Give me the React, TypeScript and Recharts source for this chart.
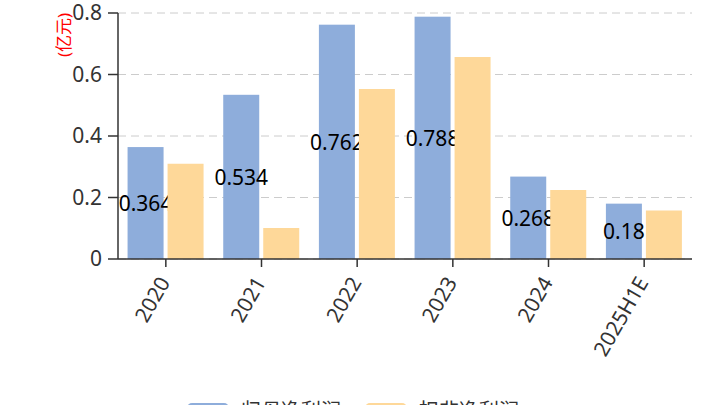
import React from 'react';
import { BarChart, Bar, XAxis, YAxis, CartesianGrid, Legend } from 'recharts';

const categories = ['2020', '2021', '2022', '2023', '2024', '2025H1E'];
const parentProfit = [0.364, 0.534, 0.762, 0.788, 0.268, 0.18];
const deductedProfit = [0.31, 0.101, 0.553, 0.657, 0.224, 0.158];
const yTicks = [0, 0.2, 0.4, 0.6, 0.8];
const seriesNames = ['归母净利润', '扣非净利润'];

const BLUE = '#8eaddb';
const ORANGE = '#fed899';
const FONT = '"Noto Sans", "Noto Sans CJK SC", sans-serif';

const data = categories.map((name, i) => ({
  name,
  parent: parentProfit[i],
  deducted: deductedProfit[i],
}));

const XTick = ({ x, y, payload }: any) => (
  <g transform={`translate(${x},${y})`}>
    <text
      x={-9}
      y={11}
      textAnchor="end"
      transform="rotate(-60)"
      fill="#333"
      fontSize={21}
      fontFamily={FONT}
    >
      {payload.value}
    </text>
  </g>
);

// blue bar with its value label drawn in the same layer, so the orange bars cover it
const ParentShape = (props: any) => {
  const { x, y, width, height, payload } = props;
  return (
    <g>
      <rect x={x} y={y} width={width} height={height} fill={BLUE} />
      <text
        x={x + width / 2}
        y={y + height / 2}
        textAnchor="middle"
        dominantBaseline="central"
        fill="#000"
        fontSize={21}
        fontFamily={FONT}
      >
        {payload.parent}
      </text>
    </g>
  );
};

const LegendContent = () => (
  <div
    style={{
      display: 'flex',
      justifyContent: 'center',
      alignItems: 'center',
      height: 30,
      paddingLeft: 14,
      fontFamily: FONT,
      fontSize: 20,
      color: '#333',
    }}
  >
    {[BLUE, ORANGE].map((c, i) => (
      <div key={i} style={{ display: 'flex', alignItems: 'center', marginRight: i === 0 ? 24 : 0 }}>
        <div style={{ width: 42, height: 16, borderRadius: 5, background: c, marginRight: 12 }} />
        <span style={{ lineHeight: '20px' }}>{seriesNames[i]}</span>
      </div>
    ))}
  </div>
);

export default function App() {
  return (
    <div style={{ position: 'absolute', left: 0, top: 0, width: 720, height: 405, overflow: 'hidden', background: '#fff' }}>
      <BarChart
        width={720}
        height={426}
        data={data}
        margin={{ top: 13, right: 28, left: 0, bottom: 0 }}
        barCategoryGap="10%"
        barGap={4}
      >
        <CartesianGrid vertical={false} stroke="#ccc" strokeDasharray="8 5" />
        <XAxis
          dataKey="name"
          height={137}
          interval={0}
          tickSize={8}
          tick={<XTick />}
          axisLine={{ stroke: '#333', strokeWidth: 1.5 }}
          tickLine={{ stroke: '#333', strokeWidth: 1.5 }}
        />
        <YAxis
          width={118}
          domain={[0, 0.8]}
          ticks={yTicks}
          tickSize={10}
          tickMargin={6}
          tickFormatter={(v) => String(v)}
          tick={{ fill: '#333', fontSize: 21, fontFamily: FONT }}
          axisLine={{ stroke: '#333', strokeWidth: 1.5 }}
          tickLine={{ stroke: '#333', strokeWidth: 1.5 }}
          label={{
            value: '(亿元)',
            content: (p: any) => {
              const vb = p.viewBox;
              const cx = vb.x + 63;
              const cy = vb.y + 22;
              return (
                <text
                  x={cx}
                  y={cy}
                  transform={`rotate(-90 ${cx} ${cy})`}
                  textAnchor="middle"
                  dominantBaseline="central"
                  fill="red"
                  fontSize={17}
                  fontFamily={FONT}
                >
                  (亿元)
                </text>
              );
            },
          }}
        />
        <Legend verticalAlign="bottom" content={<LegendContent />} />
        <Bar dataKey="parent" name={seriesNames[0]} fill={BLUE} shape={<ParentShape />} isAnimationActive={false} />
        <Bar dataKey="deducted" name={seriesNames[1]} fill={ORANGE} isAnimationActive={false} />
      </BarChart>
    </div>
  );
}
